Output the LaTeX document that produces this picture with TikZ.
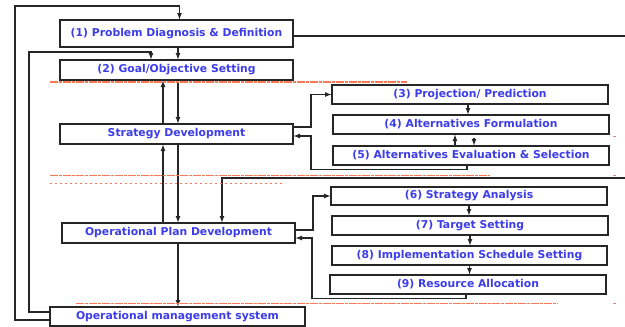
\documentclass[tikz,border=0pt]{standalone}
\usepackage{fontspec}
\newfontfamily\boxfont{DejaVu Sans}
\usetikzlibrary{arrows, calc}

\definecolor{txtblue}{RGB}{60,60,235}
\definecolor{guidered}{RGB}{250,120,85}

\begin{document}
\begin{tikzpicture}[>=latex, x=1pt, y=-1pt,
  box/.style={draw=black!85, line width=1.2pt, fill=white, inner sep=0pt,
    text=txtblue, font=\boxfont\bfseries\fontsize{10.8}{12}\selectfont},
  link/.style={line width=1.2pt, black!85},
  guide/.style={draw=guidered, line width=1.6pt, dash pattern=on 8pt off 1pt on 3pt off 1pt}]
  \useasboundingbox (0,0) rectangle (625,327);

  % left column
  \node[box, minimum width=233, minimum height=27] (pd) at (176.5,33.5) {(1) Problem Diagnosis \& Definition};
  \node[box, minimum width=233, minimum height=20] (gos) at (176.5,70) {(2) Goal/Objective Setting};
  \node[box, minimum width=233, minimum height=20] (sd) at (176.5,134) {Strategy Development};
  \node[box, minimum width=233, minimum height=20] (opd) at (178.5,233) {Operational Plan Development};
  \node[box, minimum width=255, minimum height=19] (oms) at (177.5,316.5) {Operational management system};

  % right column, strategy part
  \node[box, minimum width=276, minimum height=19] (pp) at (470,94.5) {(3) Projection/ Prediction};
  \node[box, minimum width=276, minimum height=19] (af) at (471,124.5) {(4) Alternatives Formulation};
  \node[box, minimum width=276, minimum height=19] (aes) at (471,155.5) {(5) Alternatives Evaluation \& Selection};

  % right column, operational part
  \node[box, minimum width=276, minimum height=18] (sa) at (469,196) {(6) Strategy Analysis};
  \node[box, minimum width=276, minimum height=19] (ts) at (470,225.5) {(7) Target Setting};
  \node[box, minimum width=275, minimum height=19] (iss) at (469.5,255.5) {(8) Implementation Schedule Setting};
  \node[box, minimum width=276, minimum height=19] (ra) at (468,284.5) {(9) Resource Allocation};

  % feedback loops
  \draw[link,->] ([yshift=-3.5pt]oms.west) -| (15,6) -| ([xshift=3pt]pd.north);
  \draw[link,->] ([yshift=4.5pt]oms.west) -| (29,52) -| ([xshift=-25.5pt]gos.north);

  % main column
  \draw[link,->] ([xshift=1.5pt]pd.south) -- ([xshift=1.5pt]gos.north);
  \draw[link,->] ([xshift=1.5pt]gos.south) -- ([xshift=1.5pt]sd.north);
  \draw[link,->] ([xshift=-13.5pt]sd.north) -- ([xshift=-13.5pt]gos.south);
  \draw[link,->] ([xshift=1.5pt]sd.south) -- ([xshift=1.5pt]sd.south |- opd.north);
  \draw[link,->] ([xshift=-15.5pt]opd.north) -- ([xshift=-15.5pt]opd.north |- sd.south);
  \draw[link,->] ([xshift=-0.5pt]opd.south) -- ([xshift=-0.5pt]opd.south |- oms.north);

  % line from (1) round the right edge
  \coordinate (rt) at (625,36);
  \coordinate (rb) at (625,178);
  \draw[link] ([yshift=-2.5pt]pd.east) -- (rt);
  \draw[link,->] (rb) -| ([xshift=43.5pt]opd.north);

  % strategy part
  \draw[link,->] ([yshift=7pt]sd.east) -| (311,94.5) -- (pp.west);
  \draw[link,->] ([xshift=-2pt]pp.south) -- ([xshift=-2pt]pp.south |- af.north);
  \draw[link,->] ([xshift=-16pt]aes.north) -- ([xshift=-16pt]af.south);
  \draw[link,->] ([xshift=3pt,yshift=-3pt]af.south) -- ([xshift=3pt]aes.north);
  \draw[link,->] ([xshift=-4pt]aes.south) -- ++(0,4) -| (311,136) -- ([yshift=-2pt]sd.east);

  % operational part
  \draw[link,->] ([yshift=3pt]opd.east) -| (313,196) -- (sa.west);
  \foreach \a/\b in {sa/ts, ts/iss, iss/ra}
    \draw[link,->] (\a.south) -- (\a.south |- \b.north);
  \draw[link,->] ([xshift=-2pt]ra.south) -- ++(0,4) -| (312,238) -- ([yshift=-5pt]opd.east);

  % guide lines
  \foreach \xa/\xb/\y in {50/407/82, 50/490/175.5, 76/558/303.5, 613/616/136.5, 613/616/175.5, 613/616/303.5}
    \draw[guide] (\xa,\y) -- (\xb,\y);
  \draw[guide, line width=1.2pt, dash pattern=on 2pt off 3pt] (50,183.5) -- (285,183.5);
\end{tikzpicture}
\end{document}
